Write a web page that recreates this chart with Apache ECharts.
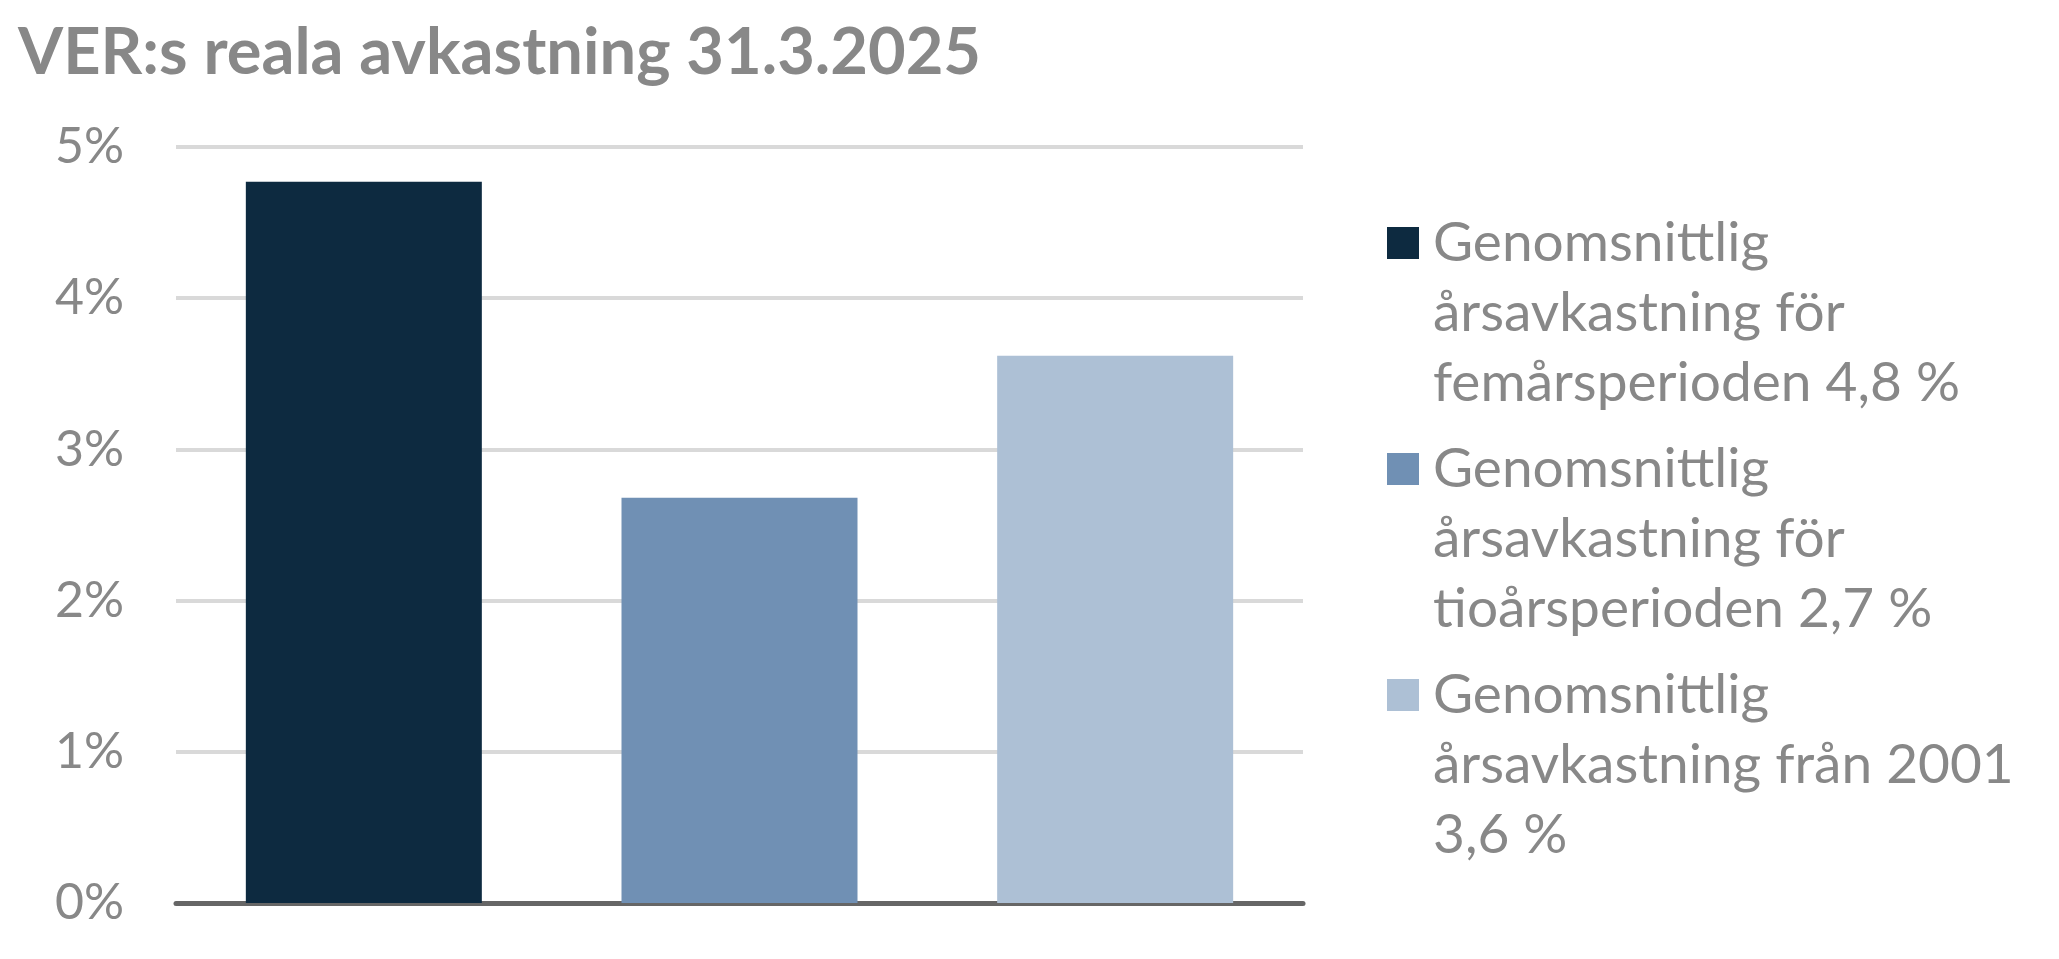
<!DOCTYPE html>
<html><head><meta charset="utf-8">
<script src="https://cdn.jsdelivr.net/npm/echarts@6/dist/echarts.min.js"></script>
<style>html,body{margin:0;padding:0;background:#fff}#c{width:2059px;height:959px}</style>
</head><body><div id="c"></div>
<script>
const titleText = "VER:s reala avkastning 31.3.2025";
const categories = [
  "Genomsnittlig\nårsavkastning för\nfemårsperioden 4,8 %",
  "Genomsnittlig\nårsavkastning för\ntioårsperioden 2,7 %",
  "Genomsnittlig\nårsavkastning från 2001\n3,6 %"
];
const values = [4.77, 2.68, 3.62];
const colors = ["#0d2a40", "#7090b4", "#adc0d5"];
const yTicks = {min: 0, max: 5, interval: 1, suffix: "%"};

const FONT = "Lato";
const GRAY = "#888888";

// legend icon: square at top of a tall box, so it lines up with the first text line
const iconPath = "path://M0,0h0.01v0.01h-0.01z M0,19h32v32h-32z M40.99,209.99h0.01v0.01h-0.01z";

const series = categories.map((name, i) => ({
  name: name,
  type: "bar",
  stack: "all",
  barWidth: 236,
  itemStyle: {color: colors[i]},
  emphasis: {disabled: true},
  data: categories.map((_, j) => (j === i ? values[i] : "-"))
}));

const chart = echarts.init(document.getElementById("c"), null, {renderer: "canvas"});
chart.setOption({
  animation: false,
  backgroundColor: "#ffffff",
  title: {
    text: titleText,
    left: 18,
    top: 21,
    padding: 0,
    textStyle: {fontFamily: FONT, fontWeight: "bold", fontSize: 65, color: GRAY, lineHeight: 65}
  },
  grid: {left: 176, right: 756, top: 147, bottom: 56, containLabel: false},
  legend: {
    orient: "vertical",
    left: 1387,
    top: 208,
    padding: 0,
    itemGap: 16,
    itemWidth: 41,
    itemHeight: 210,
    icon: iconPath,
    selectedMode: false,
    data: categories,
    textStyle: {fontFamily: FONT, fontSize: 55, lineHeight: 70, color: GRAY}
  },
  xAxis: {
    type: "category",
    data: categories,
    axisLine: {show: true, lineStyle: {color: "#666666", width: 5}},
    axisTick: {show: false},
    axisLabel: {show: false},
    splitLine: {show: false}
  },
  yAxis: {
    type: "value",
    min: yTicks.min,
    max: yTicks.max,
    interval: yTicks.interval,
    axisLine: {show: false},
    axisTick: {show: false},
    axisLabel: {
      margin: 52,
      formatter: v => v + yTicks.suffix,
      fontFamily: FONT, fontSize: 50, color: GRAY
    },
    splitLine: {lineStyle: {color: "#d9d9d9", width: 4}}
  },
  series: series
});
</script></body></html>
